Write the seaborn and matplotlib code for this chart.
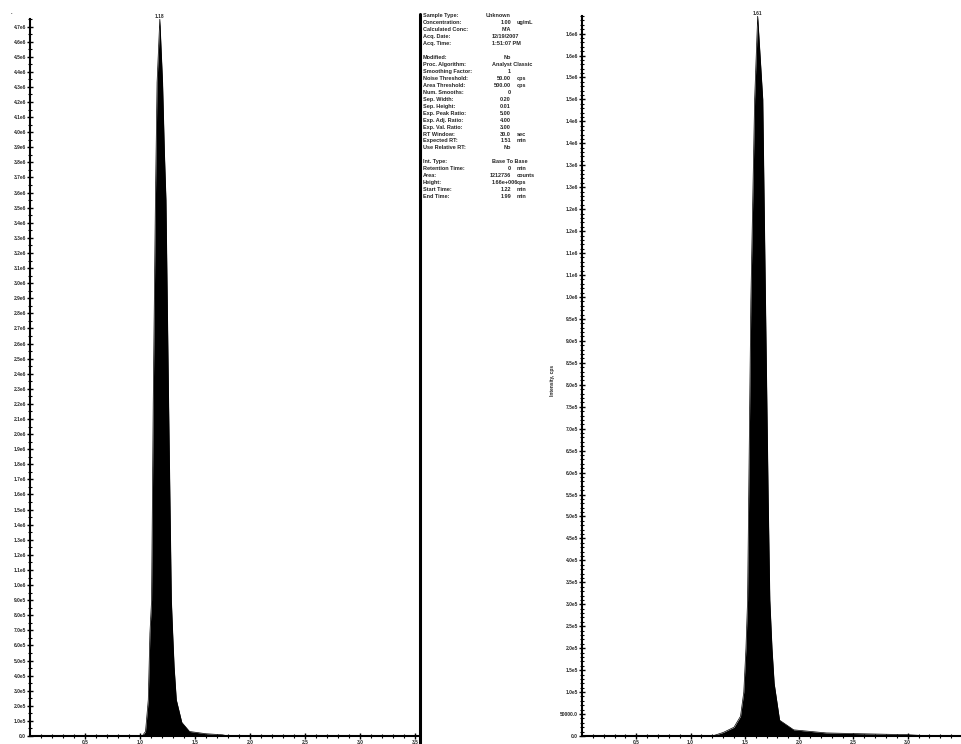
import math
import numpy as np
import matplotlib
matplotlib.use("Agg")
import matplotlib.pyplot as plt
from matplotlib.lines import Line2D
import seaborn as sns

# peak traces (time in min, intensity in cps)
left_time = [0.0, 1.02, 1.05, 1.075, 1.09, 1.105, 1.12, 1.14, 1.155, 1.18,
             1.205, 1.222, 1.236, 1.26, 1.285, 1.297, 1.31, 1.33, 1.38, 1.45,
             1.60, 1.75, 1.80, 3.52]
left_int = [0, 0, 3e4, 2.4e5, 6.8e5, 9.0e5, 2.2e6, 3.55e6, 4.33e6, 4.75e6,
            4.33e6, 3.86e6, 3.55e6, 2.2e6, 9.0e5, 6.8e5, 4.6e5, 2.4e5, 9e4, 3e4,
            1.5e4, 8e3, 0, 0]

right_time = [0.0, 1.20, 1.30, 1.40, 1.46, 1.49, 1.51, 1.525, 1.535, 1.555,
              1.59, 1.618, 1.665, 1.69, 1.715, 1.73, 1.75, 1.77, 1.82, 1.95,
              2.25, 2.60, 3.00, 3.20, 3.45]
right_int = [0, 0, 8e3, 2e4, 4.5e4, 1.0e5, 2.0e5, 3.1e5, 5.4e5, 9.9e5,
             1.45e6, 1.64e6, 1.45e6, 9.9e5, 5.4e5, 3.1e5, 2.0e5, 1.2e5, 3.6e4, 1.4e4,
             7e3, 5e3, 3e3, 0, 0]

left_apex = ("1.18", 1.18, 4.75e6)
right_apex = ("1.61", 1.618, 1.64e6)

left_xticks = [0.5, 1.0, 1.5, 2.0, 2.5, 3.0, 3.5]
right_xticks = [0.5, 1.0, 1.5, 2.0, 2.5, 3.0]
left_yticks = np.arange(0, 48) * 1e5
right_yticks = np.arange(0, 33) * 5e4

info_labels = ["Sample Type:", "Concentration:", "Calculated Conc:", "Acq. Date:", "Acq. Time:", "",
               "Modified:", "Proc. Algorithm:", "Smoothing Factor:", "Noise Threshold:",
               "Area Threshold:", "Num. Smooths:", "Sep. Width:", "Sep. Height:",
               "Exp. Peak Ratio:", "Exp. Adj. Ratio:", "Exp. Val. Ratio:", "RT Window:",
               "Expected RT:", "Use Relative RT:", "",
               "Int. Type:", "Retention Time:", "Area:", "Height:", "Start Time:", "End Time:"]
info_values = ["Unknown", "1.00", "N/A", "12/19/2007", "1:51:07 PM", "",
               "No", "Analyst Classic", "1", "50.00", "500.00", "0", "0.20", "0.01",
               "5.00", "4.00", "3.00", "30.0", "1.51", "No", "",
               "Base To Base", "0", "1212736", "1.66e+006", "1.22", "1.99"]
info_units = ["", "ug/mL", "", "", "", "",
              "", "", "", "cps", "cps", "", "", "", "", "", "", "sec", "min", "", "",
              "", "min", "counts", "cps", "min", "min"]


def fmt(v):
    if v == 0:
        return "0.0"
    if v < 1e5:
        return f"{v:.1f}"
    e = int(math.floor(math.log10(v) + 1e-9))
    m = math.floor(v / 10 ** e * 10 + 0.5 + 1e-9) / 10
    return f"{m:.1f}e{e}"


sns.set_style("ticks")
plt.rcParams["font.family"] = ["Liberation Sans", "DejaVu Sans"]
plt.rcParams["font.weight"] = "bold"

W, H = 962, 744
fig = plt.figure(figsize=(W / 100, H / 100), dpi=100)


def rect(x0, y0, x1, y1):
    return [x0 / W, 1 - y1 / H, (x1 - x0) / W, (y1 - y0) / H]


ax1 = fig.add_axes(rect(30, 19, 418, 736))
ax2 = fig.add_axes(rect(582, 16, 962, 736))

panels = [
    (ax1, left_time, left_int, left_apex, (0, 3.527), 4.75e6, left_xticks, left_yticks, 5e4),
    (ax2, right_time, right_int, right_apex, (0, 3.455), 1.64e6, right_xticks, right_yticks, 1e4),
]

for ax, t, y, apex, xlim, ytop, xt, yt, yminor in panels:
    sns.lineplot(x=t, y=y, ax=ax, color="black", linewidth=0.5, estimator=None, sort=False)
    ax.fill_between(t, y, color="black", linewidth=0)
    ax.set_xlim(*xlim)
    ax.set_ylim(0, ytop)
    ax.set_xticks(xt)
    ax.set_xticklabels([f"{v:.1f}" for v in xt])
    ax.set_xticks(np.arange(1, 36) * 0.1, minor=True)
    ax.set_yticks(yt)
    ax.set_yticklabels([fmt(v) for v in yt])
    ax.set_yticks(np.arange(0, int(ytop / yminor) + 1) * yminor, minor=True)
    ax.tick_params(which="major", direction="inout", length=4, width=1,
                   labelsize=3.5, pad=1, color="black")
    ax.tick_params(which="minor", direction="inout", length=2.5, width=0.8, color="black")
    for s in ["top", "right"]:
        ax.spines[s].set_visible(False)
    for s in ["left", "bottom"]:
        ax.spines[s].set_linewidth(1.5)
        ax.spines[s].set_color("black")
    ax.set_xlabel("")
    ax.set_ylabel("")
    ax.text(apex[1], apex[2], apex[0], ha="center", va="bottom", fontsize=3.5, clip_on=False)

# separator between left panel and the info block
fig.add_artist(Line2D([420 / W, 420 / W], [0, 1 - 14 / H], color="black",
                      linewidth=2.2, transform=fig.transFigure))

fig.text(553 / W, 1 - 380 / H, "Intensity, cps", rotation=90, ha="center", va="center", fontsize=3.5)

# info block
y0, dy = 15.7, 6.96
for k, (lab, val, unit) in enumerate(zip(info_labels, info_values, info_units)):
    yy = 1 - (y0 + k * dy) / H
    if lab:
        fig.text(423 / W, yy, lab, ha="left", va="center", fontsize=4)
    if val:
        if len(val) > 7:
            fig.text(492 / W, yy, val, ha="left", va="center", fontsize=4)
        else:
            fig.text(511 / W, yy, val, ha="right", va="center", fontsize=4)
    if unit:
        fig.text(517 / W, yy, unit, ha="left", va="center", fontsize=4)

fig.text(11 / W, 1 - 14 / H, ".", fontsize=4)

fig.savefig("out.png", dpi=100)
